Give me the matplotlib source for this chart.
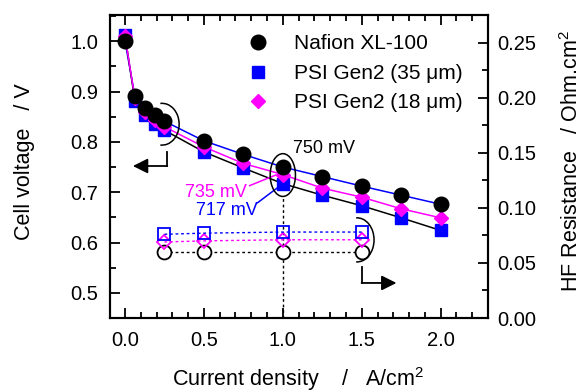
import matplotlib
matplotlib.use("Agg")
import matplotlib.pyplot as plt
from matplotlib.patches import Ellipse, Arc
import numpy as np

plt.rcParams['font.family'] = ['Liberation Sans', 'DejaVu Sans']
plt.rcParams['mathtext.fontset'] = 'custom'
plt.rcParams['mathtext.rm'] = 'Liberation Sans'

# ---- data ----
current = [0.0, 0.0625, 0.125, 0.1875, 0.25, 0.5, 0.75, 1.0, 1.25, 1.5, 1.75, 2.0]
v_nafion = [1.000, 0.891, 0.868, 0.853, 0.841, 0.802, 0.775, 0.750, 0.731, 0.712, 0.694, 0.676]
v_psi35 = [1.012, 0.882, 0.853, 0.836, 0.823, 0.780, 0.748, 0.717, 0.694, 0.673, 0.649, 0.624]
v_psi18 = [1.010, 0.887, 0.860, 0.843, 0.830, 0.790, 0.757, 0.735, 0.708, 0.690, 0.667, 0.649]

hfr_current = [0.25, 0.5, 1.0, 1.5]
hfr_nafion = [0.060, 0.060, 0.060, 0.060]
hfr_psi35 = [0.076, 0.077, 0.078, 0.078]
hfr_psi18 = [0.069, 0.070, 0.071, 0.071]

labels = ["Nafion XL-100", "PSI Gen2 (35 \u03bcm)", "PSI Gen2 (18 \u03bcm)"]

TICK_FS = 14.5
LAB_FS = 15.5
LEG_FS = 15
ANN_FS = 13

fig = plt.figure(figsize=(5.84, 3.92), dpi=100)
ax = fig.add_axes([110/584, (392-318)/392, (488-110)/584, (318-15)/392])
ax2 = ax.twinx()

lw = 1.1
# polarization curves (line colours as in the original)
ax.plot(current, v_nafion, '-', color='blue', lw=lw, zorder=2)
ax.plot(current, v_psi35, '-', color='black', lw=lw, zorder=2)
ax.plot(current, v_psi18, '-', color='magenta', lw=lw, zorder=2)
h1, = ax.plot(current, v_nafion, 'o', color='black', ms=10.5, mec='black', zorder=5)
h3, = ax.plot(current, v_psi18, 'D', color='magenta', ms=7, mec='magenta', zorder=4)
h2, = ax.plot(current, v_psi35, 's', color='blue', ms=8.5, mec='blue', zorder=3)

# HFR curves
dash = (0, (2, 2))
ax2.plot(hfr_current, hfr_nafion, color='black', ls=dash, lw=1.0, marker='o', ms=10,
         mfc='white', mec='black', mew=1.3)
ax2.plot(hfr_current, hfr_psi18, color='magenta', ls=dash, lw=1.0, marker='D', ms=7.5,
         mfc='none', mec='magenta', mew=1.3)
ax2.plot(hfr_current, hfr_psi35, color='blue', ls=dash, lw=1.0, marker='s', ms=8.5,
         mfc='none', mec='blue', mew=1.3)

# limits & ticks
ax.set_xlim(-0.095, 2.3)
ax.set_ylim(0.45, 1.052)
ax2.set_ylim(0.0, 0.275)
ax.set_xticks([0.0, 0.5, 1.0, 1.5, 2.0])
ax.set_xticks(np.arange(0.0, 2.31, 0.1), minor=True)
ax.set_yticks([0.5, 0.6, 0.7, 0.8, 0.9, 1.0])
ax.set_yticks(np.arange(0.45, 1.06, 0.05), minor=True)
ax2.set_yticks([0.0, 0.05, 0.10, 0.15, 0.20, 0.25])
ax2.set_yticks(np.arange(0.0, 0.276, 0.025), minor=True)
ax.xaxis.set_major_formatter(matplotlib.ticker.FormatStrFormatter('%.1f'))
ax.yaxis.set_major_formatter(matplotlib.ticker.FormatStrFormatter('%.1f'))
ax2.yaxis.set_major_formatter(matplotlib.ticker.FormatStrFormatter('%.2f'))

ax.tick_params(which='both', direction='in', top=True, right=False, labelsize=TICK_FS, width=1.3)
ax.tick_params(which='major', length=7)
ax.tick_params(which='minor', length=4)
ax.tick_params(axis='y', pad=8.5)
ax.tick_params(axis='x', pad=9.5)
ax2.tick_params(which='both', direction='in', labelsize=TICK_FS, width=1.3)
ax2.tick_params(which='major', length=7, pad=7)
ax2.tick_params(which='minor', length=4)
for a in (ax, ax2):
    for s in a.spines.values():
        s.set_linewidth(1.5)

ax.set_xlabel("Current density    /   A/cm$^2$", fontsize=LAB_FS)
ax.set_ylabel("Cell voltage   / V", fontsize=LAB_FS)
ax2.set_ylabel("HF Resistance   / Ohm.cm$^2$", fontsize=LAB_FS)
ax.xaxis.set_label_coords((298 - 110) / 378, (318 - 386) / 303)
ax.xaxis.label.set_va('baseline')
ax.yaxis.set_label_coords((25 - 110) / 378, (318 - 162) / 303)
ax.yaxis.label.set_va('center')
ax2.yaxis.set_label_coords((572 - 110) / 378, (318 - 161) / 303)
ax2.yaxis.label.set_va('center')

# legend
leg = ax.legend([h1, h2, h3], labels, loc='upper left', frameon=False, fontsize=LEG_FS,
                handletextpad=1.0, labelspacing=0.5, borderaxespad=0, borderpad=0,
                bbox_to_anchor=(0.349, 0.936), handlelength=1.5)

# annotations
ax.text(1.067, 0.786, "750 mV", fontsize=ANN_FS, ha='left', va='center')
ax.text(0.775, 0.699, "735 mV", fontsize=ANN_FS, color='magenta', ha='right', va='center')
ax.text(0.84, 0.663, "717 mV", fontsize=ANN_FS, color='blue', ha='right', va='center')
ax.plot([0.79, 0.955], [0.713, 0.734], color='magenta', lw=1.1, zorder=6)
ax.plot([0.84, 0.984], [0.679, 0.713], color='blue', lw=1.1, zorder=6)

# ellipses
ax.add_patch(Ellipse((1.0, 0.734), 0.16, 0.085, fill=False, ec='black', lw=1.1, zorder=7))
ax.add_patch(Arc((0.235, 0.835), 0.216, 0.083, theta1=-105, theta2=105, ec='black', lw=1.1, zorder=7))
ax2.add_patch(Arc((1.47, 0.0709), 0.216, 0.040, theta1=-105, theta2=105, ec='black', lw=1.1, zorder=7))

# vertical dotted marker at 1.0
ax.plot([1.0, 1.0], [0.45, 0.69], color='black', ls=dash, lw=1.0, zorder=1)

# arrows
astyle = '-|>,head_length=0.9,head_width=0.45'
ax.plot([0.267, 0.267], [0.78, 0.752], color='black', lw=1.3)
ax.annotate("", xy=(0.05, 0.752), xytext=(0.268, 0.752),
            arrowprops=dict(arrowstyle=astyle, color='black', lw=1.3, shrinkA=0, shrinkB=0))
ax2.plot([1.5, 1.5], [0.0464, 0.0318], color='black', lw=1.3)
ax2.annotate("", xy=(1.72, 0.0318), xytext=(1.499, 0.0318),
             arrowprops=dict(arrowstyle=astyle, color='black', lw=1.3, shrinkA=0, shrinkB=0))

fig.savefig("out.png", dpi=100)
